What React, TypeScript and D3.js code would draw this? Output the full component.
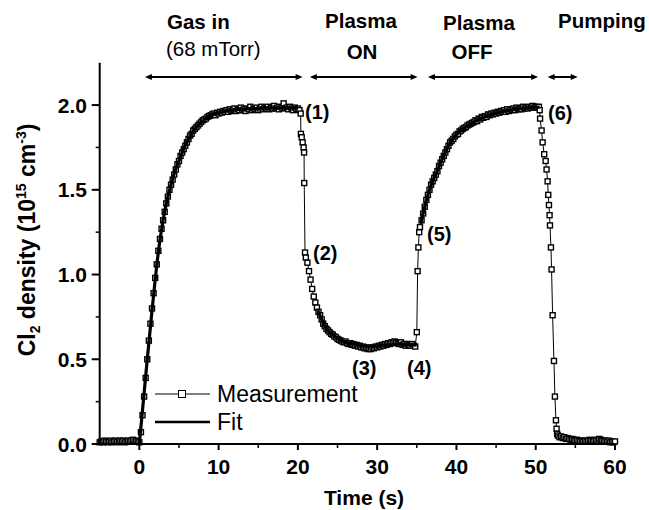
import React from 'react';
import * as d3 from 'd3';

// ---------- data ----------
const baselineStart = -5;
const baselineStep = 0.2;
const baselineValues = [0.010,0.015,0.010,0.020,0.015,0.010,0.015,0.020,0.010,0.015,0.020,0.015,0.010,0.020,0.015,0.020,0.010,0.015,0.020,0.015,0.020,0.025,0.015,0.020,0.015];

const gasInStart = 0;
const gasInStep = 0.2;
const gasInValues = [
  0.01,0.07,0.17,0.28,0.39,0.50,0.61,0.71,0.80,0.89,0.98,1.06,1.14,1.21,1.27,1.32,1.37,1.42,1.46,1.50,
  1.53,1.56,1.59,1.62,1.65,1.67,1.70,1.72,1.74,1.76,1.78,1.80,1.82,1.83,1.85,1.86,1.87,1.88,1.89,1.90,
  1.91,1.915,1.92,1.93,1.935,1.94,
  1.945,1.95,1.94,1.955,1.95,1.96,1.955,1.965,1.96,1.97,1.96,1.975,1.965,1.97,1.98,1.965,1.975,1.97,1.985,1.97,
  1.975,1.965,1.98,1.975,1.99,1.97,1.98,1.975,1.985,1.97,1.98,1.99,1.975,1.985,1.98,1.99,1.975,1.985,1.98,1.995,
  1.98,1.985,1.975,1.99,1.985,2.01,1.98,1.985,1.975,1.99,1.98,1.97,1.985,1.975,1.98,1.97
];

const plasmaOnDrop: [number, number][] = [
  [20.35,1.95],[20.38,1.83],[20.48,1.81],[20.6,1.78],[20.72,1.75],[20.78,1.72],[20.8,1.54],[20.9,1.13]
];

const plasmaOnStart = 21.0;
const plasmaOnStep = 0.2;
const plasmaOnValues = [
  1.10,1.07,1.02,0.97,0.915,0.87,0.835,0.805,0.78,0.76,
  0.735,0.71,0.695,0.68,0.67,0.66,0.65,0.645,0.635,0.63,
  0.62,0.615,0.61,0.605,0.60,0.605,0.595,0.59,0.595,0.585,
  0.59,0.58,0.585,0.575,0.58,0.57,0.575,0.565,0.57,0.56,
  0.565,0.56,0.57,0.565,0.575,0.57,0.58,0.575,0.585,0.58,
  0.59,0.585,0.595,0.59,0.60,0.595,0.605,0.60,0.595,0.59,
  0.60,0.585,0.59,0.58,0.59,0.585,0.58,0.59,0.58,0.575
];

const plasmaOffJump: [number, number][] = [[35.0,0.66],[35.1,1.02],[35.2,1.16],[35.3,1.25]];

const plasmaOffStart = 35.4;
const plasmaOffStep = 0.2;
const plasmaOffValues = [
  1.28,1.32,1.36,1.40,1.44,1.47,1.50,1.53,1.55,1.57,
  1.59,1.61,1.64,1.66,1.68,1.70,1.72,1.74,1.76,1.78,
  1.79,1.80,1.815,1.825,1.83,1.845,1.85,1.86,1.865,1.87,
  1.88,1.885,1.89,1.895,1.90,1.91,1.905,1.92,1.915,1.93,
  1.925,1.935,1.93,1.945,1.94,1.95,1.945,1.955,1.95,1.96,
  1.955,1.965,1.96,1.97,1.96,1.975,1.965,1.975,1.97,1.98,
  1.97,1.985,1.975,1.98,1.975,1.99,1.98,1.985,1.98,1.99,
  1.985,1.995,1.985,1.99,1.985,1.99
];

const pumpingDrop: [number, number][] = [
  [50.5,1.97],[50.55,1.92],[50.74,1.85],[50.87,1.78],[51.07,1.71],[51.25,1.67],[51.37,1.62],[51.5,1.55],
  [51.58,1.47],[51.67,1.41],[51.75,1.35],[51.8,1.29],[51.92,1.16],[52.0,1.03],[52.13,0.76],[52.3,0.49],
  [52.42,0.28],[52.55,0.14],[52.63,0.09],[52.7,0.06]
];

const tailStart = 52.8;
const tailStep = 0.2;
const tailValues = [
  0.05,0.04,0.045,0.035,0.04,0.03,0.035,0.03,0.025,0.03,0.025,0.02,0.025,0.02,0.015,0.02,0.015,0.02,0.015,
  0.02,0.025,0.02,0.015,0.02,0.025,0.02,0.03,0.025,0.02,0.015,0.02,0.015,0.02,0.01,0.015,0.01,0.015
];

const fitGasInStart = 0;
const fitGasInStep = 0.5;
const fitGasInValues = [
  0.00,0.25,0.50,0.74,0.97,1.17,1.32,1.44,1.53,1.61,
  1.67,1.73,1.78,1.82,1.86,1.885,1.905,1.925,1.94,1.948,
  1.955,1.96,1.965,1.968,1.971,1.973,1.975,1.977,1.978,1.979,
  1.98,1.981,1.982,1.982,1.983,1.983,1.984,1.984,1.984,1.985,1.985
];

const fitPlasmaOnStart = 22.5;
const fitPlasmaOnStep = 0.5;
const fitPlasmaOnValues = [
  0.79,0.735,0.69,0.66,0.64,0.625,0.61,0.60,0.595,0.59,
  0.585,0.58,0.578,0.577,0.577,0.578,0.58,0.582,0.585,0.587,
  0.589,0.589,0.588,0.587,0.585,0.583
];

const fitPlasmaOffStart = 35.5;
const fitPlasmaOffStep = 0.5;
const fitPlasmaOffValues = [
  1.30,1.40,1.485,1.55,1.60,1.66,1.71,1.76,1.795,1.825,
  1.85,1.865,1.88,1.895,1.907,1.918,1.928,1.937,1.945,1.952,
  1.958,1.963,1.967,1.971,1.975,1.978,1.981,1.983,1.985,1.987,1.988
];

const xMajorTicks = [0, 10, 20, 30, 40, 50, 60];
const xMinorTicks = [5, 15, 25, 35, 45, 55];
const yMajorTicks = [0, 0.5, 1.0, 1.5, 2.0];
const yMinorTicks = [0.25, 0.75, 1.25, 1.75];

const phaseRanges: { from: number; to: number }[] = [
  { from: 0.7, to: 20.6 },
  { from: 21.5, to: 35.1 },
  { from: 36.4, to: 50.3 },
  { from: 51.5, to: 55.3 },
];

// ---------- helpers ----------
const regular = (start: number, step: number, values: number[]): [number, number][] =>
  values.map((v, i) => [+(start + i * step).toFixed(3), v]);

const measurement: [number, number][] = [
  ...regular(baselineStart, baselineStep, baselineValues),
  ...regular(gasInStart, gasInStep, gasInValues),
  ...plasmaOnDrop,
  ...regular(plasmaOnStart, plasmaOnStep, plasmaOnValues),
  ...plasmaOffJump,
  ...regular(plasmaOffStart, plasmaOffStep, plasmaOffValues),
  ...pumpingDrop,
  ...regular(tailStart, tailStep, tailValues),
];

const fitSegments: [number, number][][] = [
  regular(fitGasInStart, fitGasInStep, fitGasInValues),
  regular(fitPlasmaOnStart, fitPlasmaOnStep, fitPlasmaOnValues),
  regular(fitPlasmaOffStart, fitPlasmaOffStep, fitPlasmaOffValues),
];

const W = 649;
const H = 510;
const FONT = "'Liberation Sans', Arial, Helvetica, sans-serif";

export default function App() {
  const x = d3.scaleLinear().domain([-5, 60]).range([99.7, 615]);
  const y = d3.scaleLinear().domain([0, 2.25]).range([444, 62.7]);
  const line = d3.line<[number, number]>().x(d => x(d[0])).y(d => y(d[1]));
  const fitLine = d3.line<[number, number]>().x(d => x(d[0])).y(d => y(d[1])).curve(d3.curveMonotoneX);
  const sq = 5;

  const arrowHead = (px: number, py: number, dir: number) =>
    `M${px},${py} L${px - dir * 7},${py - 3} L${px - dir * 7},${py + 3} Z`;

  const arrowY = 77;

  return (
    <svg width={W} height={H} style={{ position: 'absolute', left: 0, top: 0, background: '#fff' }}
      fontFamily={FONT}>
      <rect x={0} y={0} width={W} height={H} fill="#fff" />

      {/* measurement connecting line */}
      <path d={line(measurement) || ''} fill="none" stroke="#000" strokeWidth={1} />
      {/* squares */}
      {measurement.map((d, i) => (
        <rect key={i} x={x(d[0]) - sq / 2} y={y(d[1]) - sq / 2} width={sq} height={sq}
          fill="#fff" stroke="#000" strokeWidth={1.4} />
      ))}
      {/* fit */}
      {fitSegments.map((seg, i) => (
        <path key={i} d={fitLine(seg) || ''} fill="none" stroke="#000" strokeWidth={3.2} />
      ))}

      {/* axes */}
      <line x1={x(-5)} x2={x(60)} y1={y(0)} y2={y(0)} stroke="#000" strokeWidth={2} />
      <line x1={x(-5)} x2={x(-5)} y1={y(0) + 1} y2={y(2.25)} stroke="#000" strokeWidth={2} />
      {xMajorTicks.map(t => (
        <g key={'xt' + t}>
          <line x1={x(t)} x2={x(t)} y1={y(0)} y2={y(0) + 6} stroke="#000" strokeWidth={2} />
          <text x={x(t)} y={473.5} textAnchor="middle" fontSize={21} fontWeight="bold">{t}</text>
        </g>
      ))}
      {xMinorTicks.map(t => (
        <line key={'xm' + t} x1={x(t)} x2={x(t)} y1={y(0)} y2={y(0) + 4} stroke="#000" strokeWidth={1.5} />
      ))}
      {yMajorTicks.map(v => (
        <g key={'yt' + v}>
          <line x1={x(-5) - 8} x2={x(-5)} y1={y(v)} y2={y(v)} stroke="#000" strokeWidth={2} />
          <text x={87} y={y(v) + 7.5} textAnchor="end" fontSize={21} fontWeight="bold">{v.toFixed(1)}</text>
        </g>
      ))}
      {yMinorTicks.map(v => (
        <line key={'ym' + v} x1={x(-5) - 4} x2={x(-5)} y1={y(v)} y2={y(v)} stroke="#000" strokeWidth={1.5} />
      ))}

      {/* axis titles */}
      <text x={364} y={505} textAnchor="middle" fontSize={21} fontWeight="bold">Time (s)</text>
      <text transform="translate(35,240) rotate(-90)" textAnchor="middle" fontSize={23} fontWeight="bold">
        Cl<tspan fontSize={14} dy={5}>2</tspan>
        <tspan dy={-5}> density (10</tspan>
        <tspan fontSize={14} dy={-9}>15</tspan>
        <tspan dy={9}> cm</tspan>
        <tspan fontSize={14} dy={-9}>-3</tspan>
        <tspan dy={9}>)</tspan>
      </text>

      {/* phase arrows */}
      {phaseRanges.map((p, i) => (
        <g key={'ph' + i}>
          <line x1={x(p.from) + 4} x2={x(p.to) - 4} y1={arrowY} y2={arrowY} stroke="#000" strokeWidth={2} />
          <path d={arrowHead(x(p.to), arrowY, 1)} fill="#000" />
          <path d={arrowHead(x(p.from), arrowY, -1)} fill="#000" />
        </g>
      ))}

      {/* phase labels */}
      <g fontSize={20.5}>
        <text x={167} y={29} fontWeight="bold">Gas in</text>
        <text x={166} y={56}>(68 mTorr)</text>
        <text x={361} y={28} fontWeight="bold" textAnchor="middle">Plasma</text>
        <text x={362} y={59} fontWeight="bold" textAnchor="middle">ON</text>
        <text x={479} y={30} fontWeight="bold" textAnchor="middle">Plasma</text>
        <text x={472} y={59} fontWeight="bold" textAnchor="middle">OFF</text>
        <text x={558} y={28} fontWeight="bold">Pumping</text>
      </g>

      {/* point labels */}
      <g fontSize={20} fontWeight="bold">
        <text x={305} y={119}>(1)</text>
        <text x={313} y={260}>(2)</text>
        <text x={352} y={375}>(3)</text>
        <text x={407} y={375}>(4)</text>
        <text x={427} y={241}>(5)</text>
        <text x={548} y={120}>(6)</text>
      </g>

      {/* legend */}
      <g>
        <line x1={155} x2={210} y1={394} y2={394} stroke="#000" strokeWidth={1} />
        <rect x={182 - 3.5} y={394 - 3.5} width={7} height={7} fill="#fff" stroke="#000" strokeWidth={1} />
        <text x={217} y={402} fontSize={23}>Measurement</text>
        <line x1={155} x2={210} y1={422} y2={422} stroke="#000" strokeWidth={2.5} />
        <text x={217} y={430} fontSize={23}>Fit</text>
      </g>
    </svg>
  );
}
